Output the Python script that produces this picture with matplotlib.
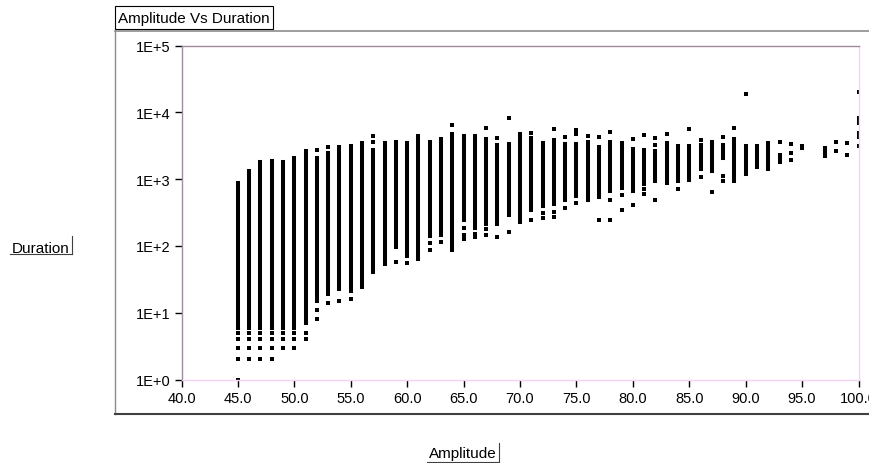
import matplotlib
matplotlib.use("Agg")
import matplotlib.pyplot as plt
from matplotlib.lines import Line2D
from matplotlib.patches import Rectangle
from matplotlib.ticker import FixedLocator, NullLocator

plt.rcParams['font.family'] = ['Liberation Sans', 'DejaVu Sans']

# ---- data ----
bar_amp = [45, 46, 47, 48, 49, 50, 51, 52, 53, 54, 55, 56, 57, 58, 59, 60, 61, 62, 63,
           64, 65, 66, 67, 68, 69, 70, 71, 72, 73, 74, 75, 76, 77, 78, 79, 80, 81, 82,
           83, 84, 85, 86, 87, 88, 89, 90, 91, 92, 93, 95, 97, 100, 100]
bar_lo = [6, 6, 6, 6, 6, 6, 7, 15, 22, 23, 21, 24, 40, 53, 95, 71, 63, 142, 147,
          86, 243, 188, 216, 216, 292, 229, 343, 398, 421, 483, 562, 495, 543, 668, 731, 668, 859, 944,
          880, 944, 964, 1410, 1300, 2100, 944, 1190, 1530, 1440, 1820, 2900, 2180, 4200, 7030]
bar_hi = [868, 1330, 1790, 1880, 1790, 2055, 2590, 2055, 2440, 3000, 3180, 3490, 2740, 3450, 3650, 3450, 4350, 3650, 4010,
          4770, 4350, 4350, 3960, 3190, 3330, 4770, 4100, 3450, 3870, 3330, 3330, 3570, 3000, 3650, 3450, 2840, 2740, 2590,
          3530, 3150, 3150, 3260, 3650, 3190, 4010, 3110, 3080, 3530, 2310, 3150, 2970, 4870, 8170]

pt_amp = [45, 45, 45, 45, 45,
          46, 46, 46, 46,
          47, 47, 47, 47,
          48, 48, 48, 48,
          49, 49, 49,
          50, 50, 50,
          51, 51,
          52, 52, 52,
          53, 53, 53,
          54, 55, 57, 57, 59, 60, 62, 62, 63, 64,
          65, 65, 65, 66, 66, 67, 67, 67, 68, 68, 69, 69, 71, 71, 72, 72,
          73, 73, 73, 74, 74, 75, 75, 75, 76, 77, 77, 78, 78, 78, 79, 79,
          80, 80, 81, 81, 81, 82, 82, 82, 83, 84, 85, 86, 86, 87, 88, 88, 88,
          89, 90, 93, 94, 94, 94, 98, 98, 99, 99, 100, 100]
pt_dur = [1, 2, 3, 4, 5,
          2, 3, 4, 5,
          2, 3, 4, 5,
          2, 3, 4, 5,
          3, 4, 5,
          3, 4, 5,
          4, 5,
          8, 11, 2710,
          14, 19, 3000,
          15, 16, 3610, 4390, 58, 55, 88, 109, 114, 6410,
          188, 148, 125, 138, 152, 180, 145, 5860, 138, 4150, 160, 8270, 243, 4930, 266, 309,
          269, 327, 5530, 363, 4250, 446, 4710, 5470, 4390, 243, 4250, 495, 243, 4990, 575, 347,
          403, 4010, 594, 716, 4610, 495, 3190, 4060, 4770, 716, 5530, 1070, 3870, 638, 1130, 930, 4300,
          5790, 18900, 3610, 1900, 2420, 3300, 2590, 3650, 2310, 3450, 3150, 20000]

x_ticks = [40, 45, 50, 55, 60, 65, 70, 75, 80, 85, 90, 95, 100]
x_labels = ['40.0', '45.0', '50.0', '55.0', '60.0', '65.0', '70.0', '75.0', '80.0',
            '85.0', '90.0', '95.0', '100.0']
y_ticks = [1, 10, 100, 1000, 10000, 100000]
y_labels = ['1E+0', '1E+1', '1E+2', '1E+3', '1E+4', '1E+5']

W, H = 869, 464
fig = plt.figure(figsize=(W / 100, H / 100), dpi=100)


def fx(x):
    return x / W


def fy(y):
    return 1 - y / H


# outer panel frame
fig.add_artist(Line2D([fx(115), fx(870)], [fy(32), fy(32)], color='#8c8c8c', lw=1.2))
fig.add_artist(Line2D([fx(115), fx(115)], [fy(32), fy(415)], color='#8c8c8c', lw=1.0))
fig.add_artist(Line2D([fx(115), fx(870)], [fy(415), fy(415)], color='#404040', lw=1.5))

ax_l, ax_r, ax_t, ax_b = 181.5, 858.5, 46.5, 380.5
ax = fig.add_axes([fx(ax_l), fy(ax_b), (ax_r - ax_l) / W, (ax_b - ax_t) / H])
ax.set_yscale('log')
ax.set_xlim(40, 100)
ax.set_ylim(1, 1e5)

lc = ax.vlines(bar_amp, bar_lo, bar_hi, colors='black', linewidth=2.9)
lc.set_capstyle('projecting')
ax.plot(pt_amp, pt_dur, linestyle='none', marker='s', markersize=2.9,
        markeredgewidth=0, color='black')

ax.xaxis.set_major_locator(FixedLocator(x_ticks))
ax.set_xticklabels(x_labels)
ax.yaxis.set_major_locator(FixedLocator(y_ticks))
ax.set_yticklabels(y_labels)
ax.yaxis.set_minor_locator(NullLocator())
ax.xaxis.set_minor_locator(NullLocator())

ax.tick_params(axis='y', direction='out', length=5, width=1.0, pad=3,
               labelsize=10.5, color='black')
ax.tick_params(axis='x', direction='out', length=5, width=1.0, pad=3.5,
               labelsize=10.5, color='black')

for s in ['left', 'top']:
    ax.spines[s].set_color('#a08aa0')
    ax.spines[s].set_linewidth(1.0)
for s in ['right', 'bottom']:
    ax.spines[s].set_color('#f5d2f5')
    ax.spines[s].set_linewidth(1.0)

# title box
fig.add_artist(Rectangle((fx(115), fy(30)), (273 - 115) / W, (30 - 7) / H,
                         transform=fig.transFigure, fill=True, facecolor='white',
                         edgecolor='black', lw=0.8))
fig.text(fx(194), fy(23.5), 'Amplitude Vs Duration', ha='center', va='baseline', fontsize=11)

# y label
fig.text(fx(41), fy(253), 'Duration', ha='center', va='baseline', fontsize=11)
fig.add_artist(Line2D([fx(10), fx(72)], [fy(255), fy(255)], color='#404040', lw=0.8))
fig.add_artist(Line2D([fx(72), fx(72)], [fy(237), fy(255)], color='#404040', lw=0.8))

# x label
fig.text(fx(463), fy(458), 'Amplitude', ha='center', va='baseline', fontsize=11)
fig.add_artist(Line2D([fx(427), fx(499)], [fy(463), fy(463)], color='#404040', lw=0.8))
fig.add_artist(Line2D([fx(499), fx(499)], [fy(444), fy(463)], color='#404040', lw=0.8))

fig.savefig('out.png', dpi=100)
